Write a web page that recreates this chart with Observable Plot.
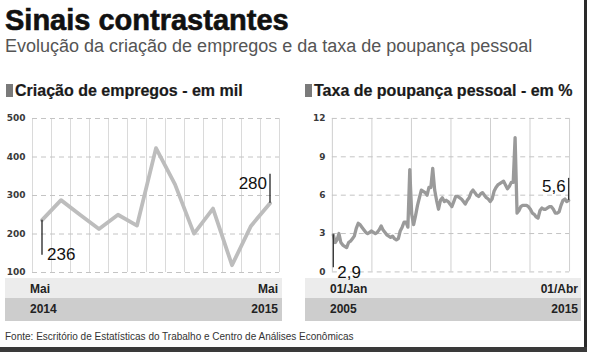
<!DOCTYPE html>
<html><head><meta charset="utf-8">
<script src="https://cdn.jsdelivr.net/npm/d3@7"></script>
<script src="https://cdn.jsdelivr.net/npm/@observablehq/plot@0.6"></script>
<style>
html,body{margin:0;padding:0;background:#fff}
#page{position:relative;width:589px;height:355px;overflow:hidden;background:#fff;font-family:"Liberation Sans Narrow","Liberation Sans",sans-serif}
.abs{position:absolute;white-space:nowrap;line-height:1}
.title{left:5px;top:6px;font-size:29px;font-weight:bold;color:#111;-webkit-text-stroke:0.6px #111}
.subtitle{left:5px;top:37px;font-size:18px;color:#555}
.head{top:83px;font-size:16px;font-weight:bold;color:#1a1a1a;-webkit-text-stroke:0.2px #1a1a1a}
.marker{position:absolute;top:84px;width:7px;height:13px;background:#7a7a7a}
.band1{position:absolute;top:278px;height:20px;background:#ececec}
.band2{position:absolute;top:298px;height:23px;background:#cdcdcd}
.blab{font-family:"Liberation Sans",sans-serif;font-size:12px;font-weight:bold;color:#222}
.src{left:5px;top:332px;font-size:10px;color:#333}
.svgbox{position:absolute;top:100px}
.rb{position:absolute;left:584px;top:0;width:3px;height:352px;background:#2a2a2a}
.bb{position:absolute;left:0;top:347px;width:587px;height:5px;background:#3a3a3a}
</style></head><body>
<div id="page"></div>
<script>
// ---------- texts ----------
const title = "Sinais contrastantes";
const subtitle = "Evolução da criação de empregos e da taxa de poupança pessoal";
const jobsHeader = "Criação de empregos - em mil";
const savingHeader = "Taxa de poupança pessoal - em %";
const sourceText = "Fonte: Escritório de Estatísticas do Trabalho e Centro de Análises Econômicas";

// ---------- jobs (thousands), May 2014 .. May 2015 ----------
const jobsMonths = ["Mai","Jun","Jul","Ago","Set","Out","Nov","Dez","Jan","Fev","Mar","Abr","Mai"];
const jobsValues = [236, 288, 250, 213, 250, 222, 423, 329, 201, 266, 119, 221, 280];
const jobsTicks = [100, 200, 300, 400, 500];
const jobsTickLabels = ["Mai", "Mai"];
const jobsYearLabels = ["2014", "2015"];

// ---------- personal saving rate (%), monthly Jan 2005 .. Apr 2015 ----------
const savingStart = "2005-01-01";
const savingValues = [
  2.9, 2.3, 2.5, 3.0, 2.3, 2.1, 2.0, 1.9, 2.3, 2.4, 2.6, 2.8,
  3.4, 3.8, 3.7, 3.5, 3.3, 3.1, 3.0, 3.1, 3.2, 3.1, 3.0, 3.1,
  3.3, 3.6, 3.3, 3.1, 2.9, 2.8, 2.7, 2.8, 2.6, 2.5, 2.6, 3.2,
  3.5, 3.9, 3.9, 3.5, 8.0, 4.5, 3.7, 4.4, 5.2, 5.8, 6.4, 6.3,
  6.2, 6.0, 6.6, 6.6, 8.1, 6.4, 5.6, 4.9, 5.6, 5.8, 5.5, 5.6,
  5.5, 5.3, 5.1, 5.5, 5.9, 5.9, 5.8, 5.7, 5.5, 5.3, 5.6, 5.8,
  6.2, 6.4, 6.2, 6.0, 5.9, 6.1, 6.2, 6.0, 5.8, 5.7, 5.5, 5.7,
  6.3, 6.6, 6.8, 6.9, 7.0, 7.1, 6.8, 6.5, 6.7, 7.0, 7.0, 10.5,
  4.6, 4.8, 5.1, 5.2, 5.2, 5.2, 5.1, 4.9, 4.6, 4.5, 4.3, 4.2,
  4.8, 5.0, 4.9, 4.9, 5.0, 5.1, 5.1, 4.9, 4.6, 4.6, 4.7, 5.2,
  5.6, 5.7, 5.5, 5.6
];
const savingTicks = [0, 3, 6, 9, 12];
const savingTickLabels = ["01/Jan", "01/Abr"];
const savingYearLabels = ["2005", "2015"];

// ---------- build tables ----------
const jobs = jobsValues.map((v, i) => ({i, month: jobsMonths[i], v}));
const t0 = new Date(savingStart);
const saving = savingValues.map((v, i) => ({date: d3.utcMonth.offset(t0, i), v}));
const fmt = v => String(v).replace(".", ",");

const page = document.getElementById("page");
function add(cls, text, style) {
  const d = document.createElement("div");
  d.className = cls;
  if (text != null) d.textContent = text;
  Object.assign(d.style, style || {});
  page.appendChild(d);
  return d;
}

add("abs title", title);
add("abs subtitle", subtitle);
add("marker", null, {left: "6px"});
add("abs head", jobsHeader, {left: "15px"});
add("marker", null, {left: "305px"});
add("abs head", savingHeader, {left: "314px"});

// label bands
add("band1", null, {left: "5px", width: "277px"});
add("band2", null, {left: "5px", width: "277px"});
add("band1", null, {left: "305px", width: "276px"});
add("band2", null, {left: "305px", width: "276px"});
add("abs blab", jobsTickLabels[0], {left: "30px", top: "283px"});
add("abs blab", jobsTickLabels[1], {right: (589 - 278) + "px", top: "283px"});
add("abs blab", jobsYearLabels[0], {left: "30px", top: "303px"});
add("abs blab", jobsYearLabels[1], {right: (589 - 278) + "px", top: "303px"});
add("abs blab", savingTickLabels[0], {left: "330px", top: "283px"});
add("abs blab", savingTickLabels[1], {right: (589 - 578) + "px", top: "283px"});
add("abs blab", savingYearLabels[0], {left: "330px", top: "303px"});
add("abs blab", savingYearLabels[1], {right: (589 - 578) + "px", top: "303px"});

add("abs src", sourceText);
add("rb");
add("bb");

const axisStyle = {fontFamily: "DejaVu Sans", fontSize: "9px", fontWeight: "bold", color: "#3a3a3a", background: "transparent", overflow: "visible"};
const annFont = {fontFamily: "Liberation Sans", fontSize: 17, fill: "#111", fontWeight: "normal"};

// leader helper: converts pixel length to data units
function leader(domain, h, px) { return (domain[1] - domain[0]) / h * px; }

// ---------- jobs chart ----------
{
  const H = 180, mt = 18, mb = 8;
  const yd = [100, 500];
  const k = leader(yd, H - mt - mb, 1);
  const first = jobs[0], last = jobs[jobs.length - 1];
  const svg = Plot.plot({
    width: 290, height: H, marginTop: mt, marginBottom: mb, marginLeft: 32, marginRight: 11,
    style: axisStyle,
    x: {domain: [-0.5, jobs.length - 0.5], axis: null},
    y: {domain: yd, ticks: jobsTicks, tickSize: 0, tickPadding: 7, label: null},
    marks: [
      Plot.ruleX(d3.range(jobs.length + 1), {x: d => d - 0.5, stroke: "#dadada", strokeWidth: 1}),
      Plot.ruleY(jobsTicks, {stroke: "#c4c4c4", strokeDasharray: "5,4"}),
      Plot.line(jobs, {x: "i", y: "v", stroke: "#bdbdbd", strokeWidth: 3.8, strokeLinejoin: "round", strokeLinecap: "round"}),
      Plot.ruleX([first], {x: "i", y1: "v", y2: d => d.v - 35 * k, stroke: "#222", strokeWidth: 1.3}),
      Plot.ruleX([last], {x: "i", y1: "v", y2: d => d.v + 29 * k, stroke: "#222", strokeWidth: 1.3}),
      Plot.text([first], {x: "i", y: "v", text: d => fmt(d.v), textAnchor: "start", dx: 5, dy: 34, ...annFont}),
      Plot.text([last], {x: "i", y: "v", text: d => fmt(d.v), textAnchor: "end", dx: -3, dy: -20, ...annFont})
    ]
  });
  const box = add("svgbox", null, {left: "0px"});
  box.appendChild(svg);
}

// ---------- saving chart ----------
{
  const H = 180, mt = 18, mb = 8, W = 300, ml = 42, mr = 20;
  const yd = [0, 12];
  const k = leader(yd, H - mt - mb, 1);
  const x0 = d3.utcDay.offset(saving[0].date, -15);
  const x1 = d3.utcDay.offset(saving[saving.length - 1].date, 15);
  const grid = d3.range(7).map(j => new Date(+x0 + (x1 - x0) * j / 6));
  const first = saving[0], last = saving[saving.length - 1];
  const svg = Plot.plot({
    width: W, height: H, marginTop: mt, marginBottom: mb, marginLeft: ml, marginRight: mr,
    style: axisStyle,
    x: {type: "utc", domain: [x0, x1], axis: null},
    y: {domain: yd, ticks: savingTicks, tickSize: 0, tickPadding: 7, label: null},
    marks: [
      Plot.ruleX(grid, {stroke: "#cfcfcf", strokeWidth: 1}),
      Plot.ruleY(savingTicks, {stroke: "#c4c4c4", strokeDasharray: "5,4"}),
      Plot.line(saving, {x: "date", y: "v", stroke: "#9a9a9a", strokeWidth: 3.3, strokeLinejoin: "round"}),
      Plot.ruleX([first], {x: "date", y1: "v", y2: d => d.v - 33 * k, stroke: "#333", strokeWidth: 1.3}),
      Plot.ruleX([last], {x: "date", y1: "v", y2: d => d.v + 22 * k, stroke: "#333", strokeWidth: 1.3}),
      Plot.text([first], {x: "date", y: "v", text: d => fmt(d.v), textAnchor: "start", dx: 4, dy: 38, ...annFont}),
      Plot.text([last], {x: "date", y: "v", text: d => fmt(d.v), textAnchor: "end", dx: -3, dy: -14, ...annFont})
    ]
  });
  const box = add("svgbox", null, {left: (330 - ml + 2) + "px"});
  box.appendChild(svg);
}
</script>
</body></html>
